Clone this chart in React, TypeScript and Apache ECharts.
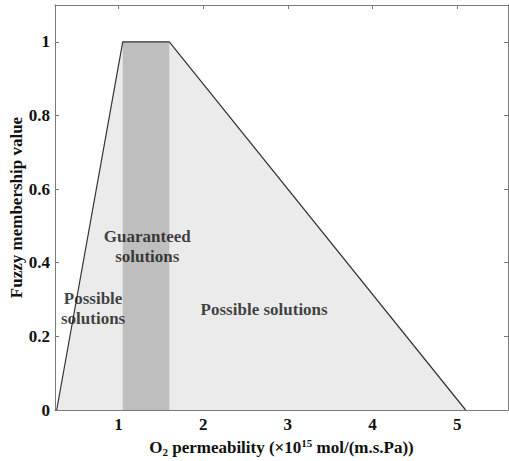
import React, { useEffect, useRef } from "react";
import * as echarts from "echarts";

// Trapezoidal membership function (x, membership)
const possiblePolygon: [number, number][] = [
  [0.27, 0],
  [1.05, 1],
  [1.6, 1],
  [5.1, 0],
];
// Guaranteed region (core of the fuzzy number)
const guaranteedBand: [number, number][] = [
  [1.05, 1],
  [1.6, 1],
];
const xTicks = [1, 2, 3, 4, 5];
const yTicks = [0, 0.2, 0.4, 0.6, 0.8, 1];
const annotations = [
  { name: "Guaranteed\nsolutions", value: [1.34, 0.445] },
  { name: "Possible\nsolutions", value: [0.7, 0.277] },
  { name: "Possible solutions", value: [2.72, 0.272] },
];

const FONT = "Liberation Serif";
const AXIS_COLOR = "#7a7a7a";

export default function App() {
  const ref = useRef<HTMLDivElement>(null);

  useEffect(() => {
    if (!ref.current) return;
    const chart = echarts.init(ref.current, undefined, { renderer: "svg" });
    const tickLabel = {
      fontFamily: FONT,
      fontWeight: "bold" as const,
      fontSize: 17,
      color: "#111",
    };
    const baseAxis = {
      axisLine: { show: true, onZero: false, lineStyle: { color: AXIS_COLOR, width: 1 } },
      splitLine: { show: false },
    };
    chart.setOption({
      animation: false,
      backgroundColor: "#fff",
      textStyle: { fontFamily: FONT },
      grid: { left: 55, right: 1, top: 5, bottom: 51, containLabel: false, outerBoundsMode: "none" },
      xAxis: [
        {
          ...baseAxis,
          type: "value",
          min: 0.25,
          max: 5.6,
          position: "bottom",
          axisTick: { show: true, inside: true, length: 4, customValues: xTicks, lineStyle: { color: AXIS_COLOR } },
          axisLabel: { ...tickLabel, margin: 6, customValues: xTicks },
          name: "{n|O}{sub|2}{n| permeability (×10}{sup|15}{n| mol/(m.s.Pa))}",
          nameLocation: "middle",
          nameGap: 27,
          nameMoveOverlap: false,
          nameTextStyle: {
            fontFamily: FONT,
            rich: {
              n: { fontFamily: FONT, fontWeight: "bold", fontSize: 17, lineHeight: 20, color: "#111" },
              sub: { fontFamily: FONT, fontWeight: "bold", fontSize: 11, lineHeight: 12, verticalAlign: "bottom", color: "#111" },
              sup: { fontFamily: FONT, fontWeight: "bold", fontSize: 11, lineHeight: 12, verticalAlign: "top", color: "#111" },
            },
          },
        },
        {
          ...baseAxis,
          type: "value",
          min: 0.25,
          max: 5.6,
          position: "top",
          axisTick: { show: true, inside: true, length: 4, customValues: xTicks, lineStyle: { color: AXIS_COLOR } },
          axisLabel: { show: false },
        },
      ],
      yAxis: [
        {
          ...baseAxis,
          type: "value",
          min: 0,
          max: 1.1,
          position: "left",
          axisTick: { show: true, inside: true, length: 4, customValues: yTicks, lineStyle: { color: AXIS_COLOR } },
          axisLabel: { ...tickLabel, margin: 5, customValues: yTicks, formatter: (v: number) => String(Math.round(v * 10) / 10) },
          name: "Fuzzy membership value",
          nameLocation: "middle",
          nameGap: 30,
          nameMoveOverlap: false,
          nameTextStyle: { fontFamily: FONT, fontWeight: "bold", fontSize: 17, color: "#111" },
        },
        {
          ...baseAxis,
          type: "value",
          min: 0,
          max: 1.1,
          position: "right",
          axisTick: { show: true, inside: true, length: 4, customValues: yTicks, lineStyle: { color: AXIS_COLOR } },
          axisLabel: { show: false },
        },
      ],
      series: [
        {
          type: "line",
          data: possiblePolygon,
          showSymbol: false,
          lineStyle: { width: 0, opacity: 0 },
          areaStyle: { color: "#ebebeb", opacity: 1 },
          z: 1,
          silent: true,
        },
        {
          type: "line",
          data: guaranteedBand,
          showSymbol: false,
          lineStyle: { width: 0, opacity: 0 },
          areaStyle: { color: "#bebebe", opacity: 1 },
          z: 2,
          silent: true,
        },
        {
          type: "line",
          data: possiblePolygon,
          showSymbol: false,
          lineStyle: { width: 1.2, color: "#333" },
          z: 3,
          silent: true,
        },
        {
          type: "scatter",
          data: annotations,
          symbolSize: 1,
          itemStyle: { color: "rgba(0,0,0,0)" },
          z: 4,
          silent: true,
          label: {
            show: true,
            position: "inside",
            formatter: (p: any) => p.name,
            fontFamily: FONT,
            fontWeight: "bold",
            fontSize: 17,
            lineHeight: 20,
            color: "#111",
            align: "center",
            verticalAlign: "middle",
          },
        },
      ],
    });
    return () => chart.dispose();
  }, []);

  return (
    <div
      ref={ref}
      style={{ position: "fixed", left: 0, top: 0, width: 509, height: 461 }}
    />
  );
}
